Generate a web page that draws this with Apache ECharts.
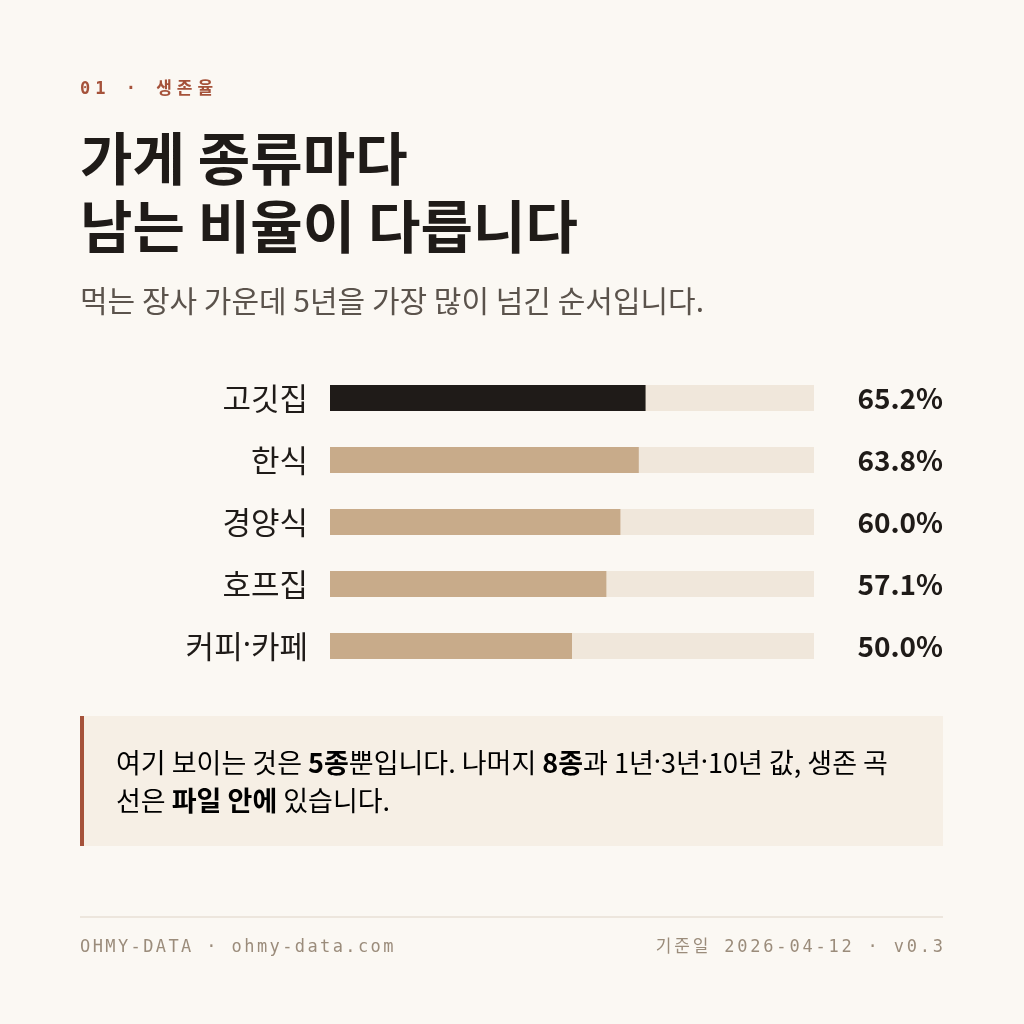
<!DOCTYPE html>
<html>
<head>
<meta charset="utf-8">
<script src="https://cdn.jsdelivr.net/npm/echarts@6/dist/echarts.min.js"></script>
<style>
  html, body { margin: 0; padding: 0; background: #fbf8f3; }
  #chart { width: 1024px; height: 1024px; }
</style>
</head>
<body>
<div id="chart"></div>
<script>
// 5년 생존율 (먹는 장사)
var categories = ['고깃집', '한식', '경양식', '호프집', '커피·카페'];
var survival = [65.2, 63.8, 60.0, 57.1, 50.0];
var valueLabels = survival.map(function (v) { return v.toFixed(1) + '%'; });
var highlightIndex = 0;

var INK = '#1f1b18';
var SANS = '"Noto Sans CJK KR", "Noto Sans", sans-serif';
var LATIN = '"Noto Sans", sans-serif';
var MONO = '"DejaVu Sans Mono", "Liberation Mono", "Noto Sans CJK KR", monospace';

// CJK 폰트의 가운뎃점은 전각이라 라틴 폰트로 좁게
function narrowDots(str, style) {
    return str.split('·').map(function (s) { return s ? '{' + style + '|' + s + '}' : ''; }).join('{dot|·}');
}

// canvas text measurer for letter-spaced mono text
var measureCtx = document.createElement('canvas').getContext('2d');
function spacedText(str, x, y, font, spacing, fill, alignRight) {
    measureCtx.font = font;
    var chars = str.split('');
    var widths = chars.map(function (c) { return measureCtx.measureText(c).width; });
    var total = widths.reduce(function (a, b) { return a + b; }, 0) + spacing * (chars.length - 1);
    var cx = alignRight ? x - total : x;
    var out = [];
    chars.forEach(function (c, i) {
        if (c !== ' ') {
            out.push({
                type: 'text', x: cx, y: y, silent: true,
                style: { text: c, font: font, fill: fill, textVerticalAlign: 'middle' }
            });
        }
        cx += widths[i] + spacing;
    });
    return out;
}

var myChart = echarts.init(document.getElementById('chart'));

var calloutRich = {
    n: { fontFamily: SANS, fontSize: 27, color: '#4d4640' },
    b: { fontFamily: SANS, fontSize: 27, fontWeight: 'bold', color: INK },
    dot: { fontFamily: LATIN, fontSize: 27, color: '#4d4640' }
};

var graphics = [];
graphics = graphics.concat(spacedText('01 · 생존율', 80, 90, 'bold 17px ' + MONO, 5, '#a5523a', false));
graphics.push(
    { type: 'text', x: 80, y: 158, style: { text: '가게 종류마다', font: 'bold 57px ' + SANS, fill: INK, textVerticalAlign: 'middle' } },
    { type: 'text', x: 80, y: 226, style: { text: '남는 비율이 다릅니다', font: 'bold 57px ' + SANS, fill: INK, textVerticalAlign: 'middle' } },
    { type: 'text', x: 80, y: 301, style: { text: '먹는 장사 가운데 5년을 가장 많이 넘긴 순서입니다.', font: '30px ' + SANS, fill: '#5b534c', textVerticalAlign: 'middle' } },
    // callout box
    { type: 'rect', shape: { x: 80, y: 716, width: 863, height: 130 }, style: { fill: '#f6efe5' } },
    { type: 'rect', shape: { x: 80, y: 716, width: 4, height: 130 }, style: { fill: '#a5523a' } },
    {
        type: 'text', x: 116, y: 763,
        style: {
            text: '{n|여기 보이는 것은 }{b|5종}{n|뿐입니다. 나머지 }{b|8종}' + narrowDots('과 1년·3년·10년 값, 생존 곡', 'n'),
            textVerticalAlign: 'middle',
            rich: calloutRich
        }
    },
    {
        type: 'text', x: 116, y: 801,
        style: {
            text: '{n|선은 }{b|파일 안에}{n| 있습니다.}',
            textVerticalAlign: 'middle',
            rich: calloutRich
        }
    },
    // footer divider
    { type: 'line', shape: { x1: 80, y1: 917, x2: 943, y2: 917 }, style: { stroke: '#e8e1d6', lineWidth: 1.5 } }
);
graphics = graphics.concat(spacedText('OHMY-DATA · ohmy-data.com', 80, 948, '17px ' + MONO, 2.4, '#9b8c7b', false));
graphics = graphics.concat(spacedText('기준일 2026-04-12 · v0.3', 943, 948, '17px ' + MONO, 2.8, '#9b8c7b', true));

var option = {
    backgroundColor: '#fbf8f3',
    animation: false,
    grid: { left: 330, width: 484, top: 367, height: 310 },
    xAxis: {
        type: 'value', min: 0, max: 100,
        show: false
    },
    yAxis: [
        {
            type: 'category', data: categories, inverse: true,
            axisLine: { show: false }, axisTick: { show: false },
            axisLabel: {
                margin: 22,
                formatter: function (v) { return narrowDots(v, 'c'); },
                rich: {
                    c: { fontFamily: SANS, fontSize: 31, color: INK },
                    dot: { fontFamily: LATIN, fontSize: 31, color: INK }
                }
            }
        },
        {
            type: 'category', data: valueLabels, inverse: true, position: 'right',
            axisLine: { show: false }, axisTick: { show: false },
            axisLabel: { fontFamily: SANS, fontSize: 28, fontWeight: 'bold', color: INK, align: 'right', margin: 129 }
        }
    ],
    series: [
        {
            type: 'bar',
            barWidth: 26,
            showBackground: true,
            backgroundStyle: { color: '#f0e7db' },
            data: survival.map(function (v, i) {
                return { value: v, itemStyle: { color: i === highlightIndex ? INK : '#c8ab8a' } };
            })
        }
    ],
    graphic: graphics
};

option && myChart.setOption(option);
</script>
</body>
</html>
